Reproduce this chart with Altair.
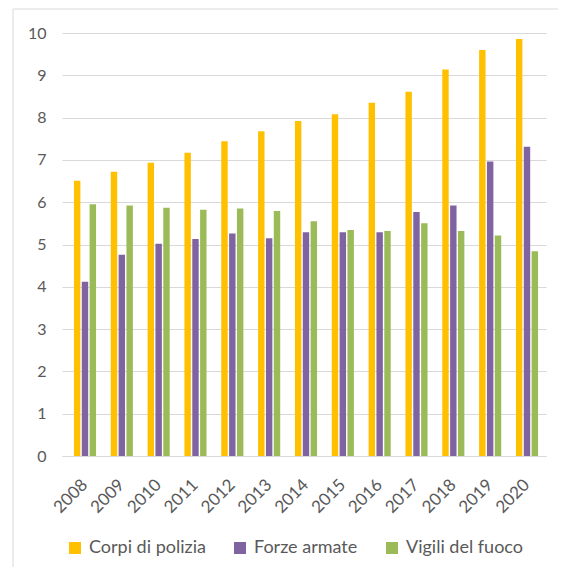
import altair as alt
import pandas as pd

years = ["2008", "2009", "2010", "2011", "2012", "2013", "2014",
         "2015", "2016", "2017", "2018", "2019", "2020"]
series = ["Corpi di polizia", "Forze armate", "Vigili del fuoco"]
colors = ["#FFC000", "#8064A2", "#9BBB59"]

corpi = [6.51, 6.72, 6.93, 7.17, 7.44, 7.68, 7.92, 8.08, 8.35, 8.61, 9.14, 9.60, 9.86]
forze = [4.12, 4.76, 5.02, 5.13, 5.26, 5.15, 5.29, 5.29, 5.29, 5.77, 5.92, 6.96, 7.31]
vigili = [5.95, 5.92, 5.87, 5.82, 5.85, 5.79, 5.55, 5.34, 5.32, 5.50, 5.32, 5.21, 4.84]
y_ticks = [0, 1, 2, 3, 4, 5, 6, 7, 8, 9, 10]

rows = []
for name, vals in zip(series, [corpi, forze, vigili]):
    for yr, v in zip(years, vals):
        rows.append({"anno": yr, "serie": name, "valore": v})
df = pd.DataFrame(rows)

FONT = "Lato"
LABEL = "#595959"
GRID = "#d9d9d9"

bars = alt.Chart(df).mark_bar().encode(
    x=alt.X("anno:N", sort=years,
            scale=alt.Scale(paddingInner=0.4, paddingOuter=0.27, align=0.6),
            axis=alt.Axis(title=None, labelAngle=-45, labelAlign="right",
                          labelBaseline="middle", labelPadding=26,
                          labelFont=FONT, labelFontSize=17, labelColor=LABEL,
                          ticks=False, domainColor=GRID, domainWidth=1)),
    xOffset=alt.XOffset("serie:N", sort=series,
                        scale=alt.Scale(paddingInner=0.18, paddingOuter=0)),
    y=alt.Y("valore:Q", scale=alt.Scale(domain=[0, 10], nice=False),
            axis=alt.Axis(title=None, values=y_ticks, domain=False, ticks=False,
                          labelPadding=16, labelFont=FONT, labelFontSize=16,
                          labelColor=LABEL, gridColor=GRID, gridWidth=1)),
    color=alt.Color("serie:N", sort=series,
                    scale=alt.Scale(domain=series, range=colors),
                    legend=alt.Legend(title=None, orient="none", legendX=4, legendY=506,
                                      direction="horizontal", symbolType="square",
                                      symbolSize=144, symbolStrokeWidth=0,
                                      labelFont=FONT, labelFontSize=18,
                                      labelColor=LABEL, columnPadding=25,
                                      labelOffset=5, padding=0)),
)

frame_df = pd.DataFrame({"k": [0]})
left_border = alt.Chart(frame_df).mark_rule(color=GRID, strokeWidth=1).encode(
    x=alt.value(-49), y=alt.value(-24), y2=alt.value(534))
top_border = alt.Chart(frame_df).mark_rule(color=GRID, strokeWidth=1).encode(
    x=alt.value(-49), x2=alt.value(496), y=alt.value(-24))

chart = alt.layer(left_border, top_border, bars).properties(
    width=484, height=423,
    autosize=alt.AutoSizeParams(type="none"),
    padding={"left": 54, "top": 25, "right": 12, "bottom": 111},
    background="white",
).configure_view(stroke=None)

chart.save("out.html", embed_options={"renderer": "svg", "actions": False})
